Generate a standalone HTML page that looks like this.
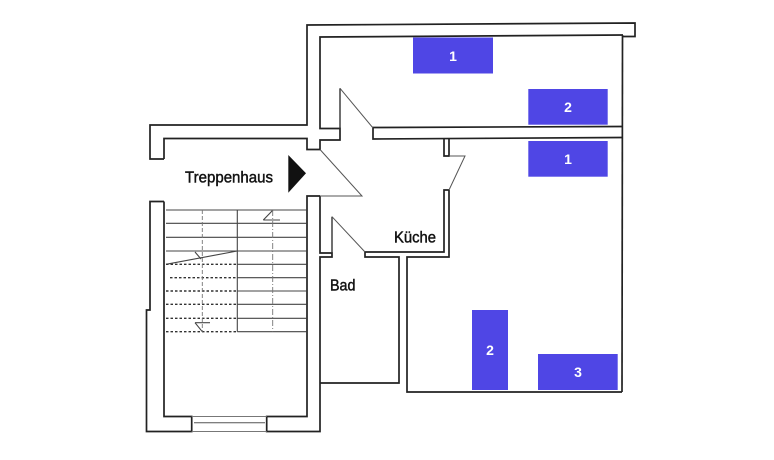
<!DOCTYPE html>
<html><head><meta charset="utf-8"><style>
html,body{margin:0;padding:0;background:#fff;}
svg{display:block;}
</style></head><body>
<svg width="774" height="460" viewBox="0 0 774 460" xmlns="http://www.w3.org/2000/svg">
<rect width="774" height="460" fill="#fff"/>
<g fill="none" stroke="#222" stroke-width="1.7" stroke-linejoin="miter">
  <polyline points="164,159 150,159 150,125 307,125 307,25 635,23 635,36.5 623,36.5"/>
  <polyline points="164,159 164,138.5 307,138.5 307,149.5 320,149.5 320,140 340,140 340,128.5 320,128.5 320,37 623,35"/>
  <polyline points="622.5,35 622,392"/>
  <polyline points="622,126.5 373,127.5 373,139 622,137.5"/>
  <polyline points="444,138.5 444,156 449,156 449,138.5"/>
  <polyline points="449,190 444,190 444,252 365,252 365,257 399,257 399,383 320.5,383"/>
  <polyline points="449,190 449,257 407,257 407,392 622,392"/>
  <polyline points="320,196 307,196 307,416.5 266.7,416.5 266.7,431.5 320,431.5 320,257 332,257 332,253 320,253 320,196"/>
  <polyline points="164,201.5 150,201.5 150,310 146.5,310 146.5,431.5 191.7,431.5 191.7,416.5 164,416.5 164,201.5"/>
</g>
<g stroke="#777" stroke-width="1" fill="none">
  <line x1="191.7" y1="416.5" x2="266.7" y2="416.5"/>
  <line x1="194" y1="422.7" x2="265" y2="422.7" stroke="#555"/>
  <line x1="191.7" y1="431.5" x2="266.7" y2="431.5"/>
</g>
<g stroke="#555" stroke-width="1" fill="none">
  <line x1="340" y1="88.3" x2="340" y2="128.5" stroke="#333" stroke-width="1.4"/>
  <line x1="340" y1="88.3" x2="373" y2="128"/>
  <polyline points="320,149.5 362,196 320,196"/>
  <line x1="332" y1="216.7" x2="332" y2="253" stroke="#333" stroke-width="1.4"/>
  <line x1="332" y1="216.7" x2="365" y2="252"/>
  <polyline points="449,156 465,156 449,190"/>
</g>
<g stroke="#444" stroke-width="1.1" fill="none">
  <line x1="166" y1="210" x2="306.7" y2="210"/>
  <line x1="166" y1="223.3" x2="306.7" y2="223.3"/>
  <line x1="166" y1="237.3" x2="306.7" y2="237.3"/>
  <line x1="166" y1="251" x2="306.7" y2="251"/>
  <line x1="237.3" y1="264.3" x2="306.7" y2="264.3"/>
  <line x1="237.3" y1="277.7" x2="306.7" y2="277.7"/>
  <line x1="237.3" y1="291" x2="306.7" y2="291"/>
  <line x1="237.3" y1="304.3" x2="306.7" y2="304.3"/>
  <line x1="237.3" y1="318.3" x2="306.7" y2="318.3"/>
  <line x1="237.3" y1="331.7" x2="306.7" y2="331.7"/>
  <line x1="237.3" y1="210" x2="237.3" y2="331.7"/>
  <line x1="166" y1="264.3" x2="237.3" y2="251"/>
  <line x1="195" y1="252" x2="201" y2="259"/>
  <line x1="263.3" y1="220" x2="280" y2="220"/>
  <line x1="263.3" y1="220" x2="273" y2="210"/>
  <line x1="195" y1="322.7" x2="210" y2="322.7"/>
  <line x1="195" y1="322.7" x2="202.3" y2="331.7"/>
</g>
<g stroke="#333" stroke-width="1.4" fill="none" stroke-dasharray="2.5,2">
  <line x1="166" y1="264.3" x2="237.3" y2="264.3"/>
  <line x1="170" y1="277.7" x2="237.3" y2="277.7"/>
  <line x1="166" y1="291" x2="237.3" y2="291"/>
  <line x1="166" y1="304.3" x2="237.3" y2="304.3"/>
  <line x1="166" y1="318.3" x2="237.3" y2="318.3"/>
  <line x1="166" y1="331.7" x2="237.3" y2="331.7"/>
</g>
<g stroke="#777" stroke-width="0.9" fill="none">
  <line x1="202.3" y1="210" x2="202.3" y2="331.7" stroke-dasharray="4,2"/>
  <line x1="272.7" y1="210" x2="272.7" y2="331.7" stroke-dasharray="6,2,1,2"/>
</g>
<polygon points="288.3,155 306,173.3 288.3,192.7" fill="#111"/>
<g font-family="Liberation Sans, Arial, sans-serif" font-size="16" fill="#111" stroke="#111" stroke-width="0.45">
  <text x="185" y="182.5" textLength="88" lengthAdjust="spacingAndGlyphs">Treppenhaus</text>
  <text x="394" y="242.3" textLength="42" lengthAdjust="spacingAndGlyphs">Küche</text>
  <text x="330" y="290.7" textLength="25.5" lengthAdjust="spacingAndGlyphs">Bad</text>
</g>
<g fill="#4f46e5">
  <rect x="413" y="37.5" width="80" height="36"/>
  <rect x="528.3" y="89" width="79.4" height="35.7"/>
  <rect x="528.3" y="141" width="79.4" height="35.7"/>
  <rect x="472" y="310" width="36" height="80"/>
  <rect x="538" y="354" width="79.7" height="36"/>
</g>
<g font-family="Liberation Sans, Arial, sans-serif" font-size="14" font-weight="bold" fill="#fff" text-anchor="middle">
  <text x="453" y="61">1</text>
  <text x="568" y="112">2</text>
  <text x="568" y="164">1</text>
  <text x="490" y="355">2</text>
  <text x="578" y="377">3</text>
</g>
</svg>
</body></html>
